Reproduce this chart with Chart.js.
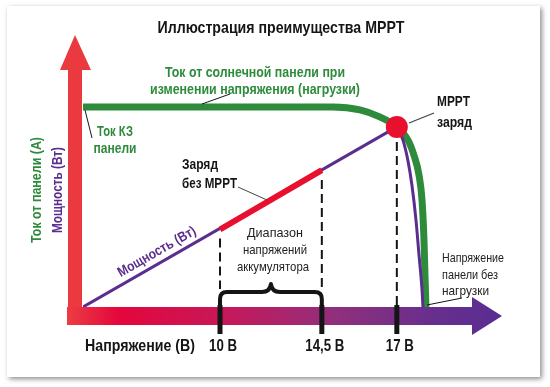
<!DOCTYPE html>
<html>
<head>
<meta charset="utf-8">
<script src="https://cdn.jsdelivr.net/npm/chart.js@4.4.1/dist/chart.umd.min.js"></script>
<style>
  html, body { margin: 0; padding: 0; background: #fff; }
  #wrap { width: 550px; height: 387px; }
</style>
</head>
<body>
<div id="wrap"><canvas id="chart" width="550" height="387"></canvas></div>
<script>
// Panel current vs. voltage (relative units, 0..100)
const currentVolts = [0, 10, 14.87, 15.77, 16.43, 17, 17.73, 18.13, 18.47, 18.67, 18.8, 18.87, 18.93];
const currentValues = [74.1, 74.1, 74.1, 73.0, 70.4, 66.7, 61.9, 56.3, 48.9, 39.6, 24.8, 11.1, 0];

// Power: straight rise up to the MPP, then the drop to open-circuit voltage
const powerRiseVolts = [0, 17];
const powerRiseValues = [0, 66.7];
const powerFallVolts = [17, 17.4, 17.73, 18.0, 18.27, 18.47, 18.67, 18.73];
const powerFallValues = [66.7, 61.9, 54.4, 45.2, 32.2, 19.3, 6.3, 0];

// Charging without MPPT = battery voltage range
const chargeVolts = [10, 14.5];
const chargeValues = [28.7, 50.7];

// Maximum power point
const mppVolts = [17];
const mppValues = [66.7];

// Axis ticks
const tickVolts = [10, 14.5, 17];
const tickLabels = ['10 В', '14,5 В', '17 В'];

// the drawing is not to scale: piecewise voltage axis
const voltKnots = [0, 10, 14.5, 17, 19, 22];
const knotFractions = [0, 0.327, 0.570, 0.749, 0.821, 1];

const GREEN = '#2e8b3c';
const PURPLE = '#5b2d8f';
const RED = '#e8102e';
const ARROW_RED = '#ea3a40';
const INK = '#151515';
const FONT = "'Liberation Sans', Arial, sans-serif";

function interp(v, from, to) {
  if (v <= from[0]) return to[0];
  for (let i = 1; i < from.length; i++) {
    if (v <= from[i]) {
      const t = (v - from[i - 1]) / (from[i] - from[i - 1]);
      return to[i - 1] + t * (to[i] - to[i - 1]);
    }
  }
  return to[to.length - 1];
}

class SchematicScale extends Chart.LinearScale {
  static id = 'schematic';
  getPixelForValue(value) {
    return this.getPixelForDecimal(interp(value, voltKnots, knotFractions));
  }
  getValueForPixel(pixel) {
    return interp(this.getDecimalForPixel(pixel), knotFractions, voltKnots);
  }
}
Chart.register(SchematicScale);

const pts = (xs, ys) => xs.map((x, i) => ({ x, y: ys[i] }));

function label(ctx, str, x, y, o) {
  ctx.save();
  ctx.font = `${o.bold ? 'bold ' : ''}${o.size}px ${FONT}`;
  ctx.fillStyle = o.color || INK;
  ctx.textAlign = o.align || 'center';
  ctx.textBaseline = 'middle';
  ctx.translate(x, y);
  if (o.angle) ctx.rotate(o.angle);
  if (o.width) {
    const w = ctx.measureText(str).width;
    ctx.scale(o.width / w, 1);
  }
  ctx.fillText(str, 0, 0);
  ctx.restore();
}

function line(ctx, x1, y1, x2, y2, width, color, dash) {
  ctx.save();
  ctx.beginPath();
  ctx.strokeStyle = color;
  ctx.lineWidth = width;
  ctx.setLineDash(dash || []);
  ctx.moveTo(x1, y1);
  ctx.lineTo(x2, y2);
  ctx.stroke();
  ctx.restore();
}

const cardPlugin = {
  id: 'card',
  beforeDraw(chart) {
    const ctx = chart.ctx;
    ctx.save();
    ctx.fillStyle = '#fff';
    ctx.fillRect(0, 0, chart.width, chart.height);
    ctx.shadowColor = 'rgba(0,0,0,0.45)';
    ctx.shadowBlur = 5;
    ctx.shadowOffsetX = 2;
    ctx.shadowOffsetY = 2;
    ctx.fillRect(7, 6, 533, 371);
    ctx.restore();
  }
};

const axesPlugin = {
  id: 'axesArt',
  beforeDatasetsDraw(chart) {
    const { ctx, chartArea: ca, scales: { x, y } } = chart;
    const L = ca.left, B = ca.bottom;

    // vertical arrow
    ctx.save();
    ctx.fillStyle = ARROW_RED;
    ctx.beginPath();
    ctx.moveTo(L - 15, B + 18);
    ctx.lineTo(L - 15, ca.top + 33);
    ctx.lineTo(L - 23, ca.top + 33);
    ctx.lineTo(L - 8, ca.top - 2);
    ctx.lineTo(L + 8, ca.top + 33);
    ctx.lineTo(L - 1, ca.top + 33);
    ctx.lineTo(L - 1, B + 18);
    ctx.closePath();
    ctx.fill();

    // horizontal arrow
    const g = ctx.createLinearGradient(L - 16, 0, ca.right, 0);
    g.addColorStop(0, '#ec3d43');
    g.addColorStop(0.12, '#e4063c');
    g.addColorStop(0.38, '#c41a5c');
    g.addColorStop(0.62, '#902f7d');
    g.addColorStop(0.85, '#652f8e');
    g.addColorStop(1, '#5a2d91');
    ctx.fillStyle = g;
    ctx.beginPath();
    ctx.moveTo(L - 16, B);
    ctx.lineTo(ca.right - 30, B);
    ctx.lineTo(ca.right - 30, B - 10);
    ctx.lineTo(ca.right, B + 9);
    ctx.lineTo(ca.right - 30, B + 28);
    ctx.lineTo(ca.right - 30, B + 18);
    ctx.lineTo(L - 16, B + 18);
    ctx.closePath();
    ctx.fill();
    ctx.restore();

    // dashed guides
    const dash = [9, 5];
    const x10 = x.getPixelForValue(chargeVolts[0]);
    const x145 = x.getPixelForValue(chargeVolts[1]);
    const x17 = x.getPixelForValue(mppVolts[0]);
    line(ctx, x10, y.getPixelForValue(chargeValues[0]) + 9, x10, B - 18, 2, INK, dash);
    line(ctx, x145, y.getPixelForValue(chargeValues[1]) + 10, x145, B - 18, 2, INK, dash);
    line(ctx, x17, y.getPixelForValue(mppValues[0]) + 15, x17, B, 2, INK, dash);

    // brace over battery range
    const mid = (x10 + x145) / 2;
    const hy = B - 15;
    ctx.save();
    ctx.strokeStyle = INK;
    ctx.lineWidth = 4;
    ctx.lineJoin = 'round';
    ctx.beginPath();
    ctx.moveTo(x10, B + 1);
    ctx.lineTo(x10, hy + 7);
    ctx.quadraticCurveTo(x10, hy, x10 + 7, hy);
    ctx.lineTo(mid - 9, hy);
    ctx.quadraticCurveTo(mid - 1, hy, mid, hy - 8);
    ctx.quadraticCurveTo(mid + 1, hy, mid + 9, hy);
    ctx.lineTo(x145 - 7, hy);
    ctx.quadraticCurveTo(x145, hy, x145, hy + 7);
    ctx.lineTo(x145, B + 1);
    ctx.stroke();
    ctx.restore();

    // tick marks
    tickVolts.forEach(v => {
      const px = x.getPixelForValue(v);
      line(ctx, px, B - 2, px, B + 27, 5, INK);
    });
  }
};

const textPlugin = {
  id: 'texts',
  afterDraw(chart) {
    const { ctx, scales: { x, y } } = chart;

    label(ctx, 'Иллюстрация преимущества MPPT', 281, 28, { bold: true, size: 17, width: 247 });

    label(ctx, 'Ток от солнечной панели при', 255, 73, { bold: true, size: 15, color: GREEN, width: 180 });
    label(ctx, 'изменении напряжения (нагрузки)', 255, 90, { bold: true, size: 15, color: GREEN, width: 210 });
    line(ctx, 230, 94, 202, 104, 1, INK);

    label(ctx, 'Ток КЗ', 115, 132, { bold: true, size: 15, color: GREEN, width: 36 });
    label(ctx, 'панели', 115, 149, { bold: true, size: 15, color: GREEN, width: 43 });
    line(ctx, 85, 110, 92, 138, 1, INK);

    label(ctx, 'MPPT', 437, 102, { bold: true, size: 15, align: 'left', width: 33 });
    label(ctx, 'заряд', 437, 123, { bold: true, size: 15, align: 'left', width: 35 });
    line(ctx, 409, 123, 434, 113, 1.3, '#444');

    label(ctx, 'Заряд', 182, 165, { bold: true, size: 15, align: 'left', width: 36 });
    label(ctx, 'без MPPT', 182, 184, { bold: true, size: 15, align: 'left', width: 55 });
    line(ctx, 238, 187, 267, 200, 1, '#444');

    label(ctx, 'Диапазон', 275, 233, { size: 13, color: '#222', width: 56 });
    label(ctx, 'напряжений', 275, 250, { size: 13, color: '#222', width: 64 });
    label(ctx, 'аккумулятора', 273, 267, { size: 13, color: '#222', width: 72 });

    label(ctx, 'Напряжение', 442, 258, { size: 13, color: '#222', align: 'left', width: 62 });
    label(ctx, 'панели без', 442, 275, { size: 13, color: '#222', align: 'left', width: 56 });
    label(ctx, 'нагрузки', 442, 291, { size: 13, color: '#222', align: 'left', width: 47 });
    line(ctx, 427, 305, 462, 298, 1, INK);

    label(ctx, 'Напряжение (В)', 85, 347, { bold: true, size: 16, align: 'left', width: 110 });
    const tickWidths = [28, 39, 28];
    tickVolts.forEach((v, i) => {
      label(ctx, tickLabels[i], x.getPixelForValue(v) + 3, 347, { bold: true, size: 16, width: tickWidths[i] });
    });

    label(ctx, 'Ток от панели (А)', 37, 190, { bold: true, size: 15, color: GREEN, angle: -Math.PI / 2, width: 106 });
    label(ctx, 'Мощность (Вт)', 58, 190, { bold: true, size: 15, color: PURPLE, angle: -Math.PI / 2, width: 86 });

    const x0 = x.getPixelForValue(powerRiseVolts[0]), y0 = y.getPixelForValue(powerRiseValues[0]);
    const x1 = x.getPixelForValue(powerRiseVolts[1]), y1 = y.getPixelForValue(powerRiseValues[1]);
    const ang = Math.atan2(y1 - y0, x1 - x0);
    label(ctx, 'Мощность (Вт)', 157, 252, { bold: true, size: 14, color: PURPLE, angle: ang, width: 88 });
  }
};

new Chart(document.getElementById('chart'), {
  type: 'line',
  data: {
    datasets: [
      {
        data: pts(mppVolts, mppValues),
        showLine: false,
        pointRadius: 11,
        pointBackgroundColor: RED,
        pointBorderWidth: 0,
        order: 0
      },
      {
        data: pts(chargeVolts, chargeValues),
        borderColor: RED,
        borderWidth: 6,
        pointRadius: 0,
        order: 1
      },
      {
        data: pts(powerRiseVolts, powerRiseValues),
        borderColor: PURPLE,
        borderWidth: 3,
        pointRadius: 0,
        order: 2
      },
      {
        data: pts(powerFallVolts, powerFallValues),
        borderColor: PURPLE,
        borderWidth: 3,
        pointRadius: 0,
        cubicInterpolationMode: 'monotone',
        order: 2
      },
      {
        data: pts(currentVolts, currentValues),
        borderColor: GREEN,
        borderWidth: 7,
        pointRadius: 0,
        cubicInterpolationMode: 'monotone',
        order: 3
      }
    ]
  },
  options: {
    responsive: false,
    animation: false,
    layout: { padding: { left: 83, right: 48, top: 37, bottom: 80 } },
    plugins: { legend: { display: false }, title: { display: false }, tooltip: { enabled: false } },
    scales: {
      x: { type: 'schematic', min: 0, max: 22, display: false },
      y: { type: 'linear', min: 0, max: 100, display: false }
    }
  },
  plugins: [cardPlugin, axesPlugin, textPlugin]
});
</script>
</body>
</html>
